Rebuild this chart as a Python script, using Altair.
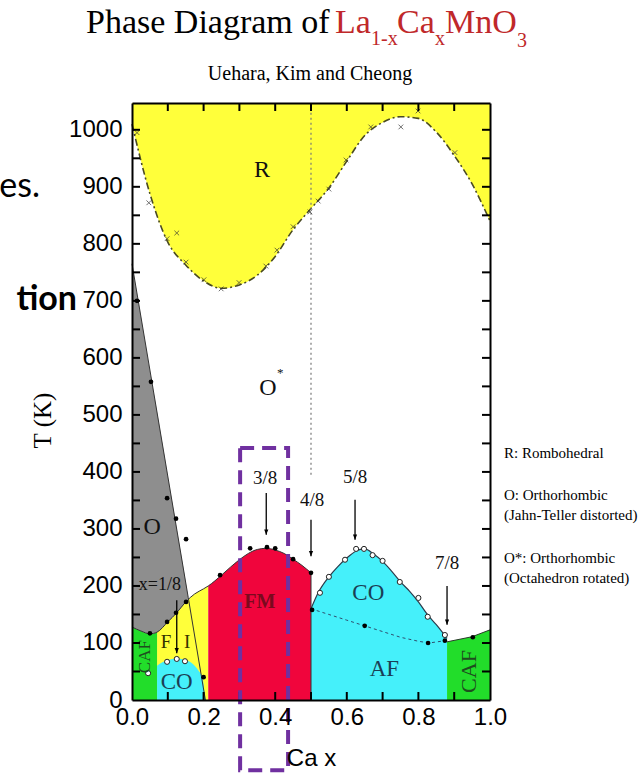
import altair as alt
import pandas as pd

T_TOP = 1047

# R (rhombohedral) / O* boundary
r_x = [0.0, 0.05, 0.1, 0.15, 0.2, 0.25, 0.3, 0.35, 0.4, 0.45, 0.5, 0.55, 0.6, 0.65, 0.7, 0.75, 0.8, 0.85, 0.9, 0.95, 1.0]
r_T = [1010, 888, 803, 763, 735, 722, 728, 745, 778, 825, 862, 898, 945, 990, 1013, 1023, 1020, 996, 955, 905, 840]
# measured structural transition points (crosses)
cross_x = [0.014, 0.047, 0.098, 0.125, 0.151, 0.201, 0.249, 0.299, 0.374, 0.405, 0.45, 0.497, 0.52, 0.55, 0.598, 0.667, 0.751, 0.799, 0.902]
cross_T = [995, 872, 809, 819, 768, 737, 721, 732, 761, 789, 830, 856, 875, 896, 947, 1005, 1005, 1033, 960]

# magnetic ordering temperature for x <= 0.5
tc_x = [0.0, 0.025, 0.05, 0.07, 0.1, 0.125, 0.15, 0.175, 0.2, 0.213, 0.25, 0.275, 0.3, 0.325, 0.35, 0.375, 0.4, 0.425, 0.45, 0.475, 0.5]
tc_T = [128, 121, 116, 119, 137, 153, 172, 186, 195, 200, 219, 233, 246, 257, 264, 266, 263, 257, 247, 236, 223]

# O (Jahn-Teller) region
gray_x = [0.0, 0.025, 0.05, 0.07, 0.1, 0.125, 0.15, 0.157]
gray_top = [765, 672, 578, 505, 393, 300, 207, 180]
gray_bot = [128, 121, 116, 119, 137, 153, 172, 178]
oline_x = [0.0, 0.157, 0.205]
oline_T = [765, 180, 0]

# charge-ordered domes
co1_x = [0.07, 0.085, 0.1, 0.125, 0.15, 0.17, 0.185, 0.197, 0.205]
co1_T = [60, 66, 70, 73, 70, 63, 52, 38, 0]
co2_x = [0.5, 0.52, 0.55, 0.575, 0.6, 0.625, 0.65, 0.675, 0.7, 0.725, 0.75, 0.775, 0.8, 0.825, 0.85, 0.88]
co2_T = [160, 188, 216, 234, 249, 261, 265, 256, 243, 226, 207, 191, 172, 150, 132, 108]

# canted AF at high x, AF transition line
caf2_x = [0.88, 0.95, 1.0]
caf2_T = [102, 111, 123]
af_x = [0.5, 0.55, 0.6, 0.65, 0.7, 0.75, 0.8, 0.83, 0.875]
af_T = [160, 150, 140, 130, 120, 110, 103, 100, 104]

# measured points
dot_x = [0.014, 0.053, 0.098, 0.123, 0.151, 0.05, 0.098, 0.123, 0.151, 0.246, 0.33, 0.377, 0.40, 0.45, 0.5, 0.2, 0.503, 0.65, 0.827, 0.874, 0.952]
dot_T = [700, 558, 354, 318, 282, 117, 137, 153, 172, 219, 266, 268, 266, 247, 223, 40, 158, 130, 100, 104, 110]
oc_x = [0.045, 0.098, 0.125, 0.148, 0.525, 0.55, 0.595, 0.626, 0.648, 0.672, 0.70, 0.748, 0.80, 0.826, 0.874]
oc_T = [47, 67, 72, 68, 188, 216, 246, 265, 265, 254, 244, 207, 179, 146, 114]

# commensurate fillings
arrow_x = [0.125, 0.375, 0.5, 0.623, 0.88]
arrow_from = [175, 363, 316, 351, 200]
arrow_to = [82, 290, 252, 281, 132]

# highlighted composition window
box_x = [0.302, 0.436]
box_T = [442, -123]

# tick positions
x_ticks = [0.1, 0.2, 0.3, 0.4, 0.5, 0.6, 0.7, 0.8, 0.9]
x_labels = [0.0, 0.2, 0.4, 0.6, 0.8, 1.0]
T_ticks = list(range(50, 1001, 50))
T_labels = list(range(0, 1001, 100))

YELLOW = "#ffff3a"
GRAY = "#8e8e8e"
GREEN = "#22dd2a"
CYAN = "#45f0fa"
RED = "#f0053c"

W, H = 358, 597
xs = alt.Scale(domain=[0, 1], nice=False, zero=False)
ys = alt.Scale(domain=[0, T_TOP], nice=False)


def X(f="x"):
    return alt.X(f"{f}:Q", scale=xs, axis=None)


def Y(f="T"):
    return alt.Y(f"{f}:Q", scale=ys, axis=None)


r_df = pd.DataFrame({"x": r_x, "T": r_T, "top": [T_TOP] * len(r_x)})
tc_df = pd.DataFrame({"x": tc_x, "T": tc_T})
gray_df = pd.DataFrame({"x": gray_x, "top": gray_top, "bot": gray_bot})
oline_df = pd.DataFrame({"x": oline_x, "T": oline_T})
co1_df = pd.DataFrame({"x": co1_x, "T": co1_T})
co2_df = pd.DataFrame({"x": co2_x, "T": co2_T})
caf2_df = pd.DataFrame({"x": caf2_x, "T": caf2_T})
af_df = pd.DataFrame({"x": af_x, "T": af_T})
cross_df = pd.DataFrame({"x": cross_x, "T": cross_T})
dot_df = pd.DataFrame({"x": dot_x, "T": dot_T})
oc_df = pd.DataFrame({"x": oc_x, "T": oc_T})
arrow_df = pd.DataFrame({"x": arrow_x, "T": arrow_from, "T2": arrow_to})
box_df = pd.DataFrame({"x": [box_x[0]], "x2": [box_x[1]], "T": [box_T[0]], "T2": [box_T[1]]})
xt_df = pd.DataFrame({"x": x_ticks})
Tt_df = pd.DataFrame({"T": T_ticks})
one = pd.DataFrame({"x": [0], "T": [0]})

# phase regions
r_area = alt.Chart(r_df).mark_area(color=YELLOW, interpolate="monotone").encode(
    x=X(), y=Y(), y2="top:Q")
fi_area = alt.Chart(tc_df).transform_filter("datum.x >= 0.07 && datum.x <= 0.213").mark_area(
    color=YELLOW, interpolate="monotone").encode(x=X(), y=Y())
caf1_area = alt.Chart(tc_df).transform_filter("datum.x <= 0.07").mark_area(
    color=GREEN, interpolate="monotone").encode(x=X(), y=Y())
fm_area = alt.Chart(tc_df).transform_filter("datum.x >= 0.213").mark_area(
    color=RED, interpolate="monotone").encode(x=X(), y=Y())
co1_area = alt.Chart(co1_df).mark_area(color=CYAN, interpolate="monotone").encode(x=X(), y=Y())
co2_area = alt.Chart(co2_df).mark_area(color=CYAN, interpolate="monotone").encode(x=X(), y=Y())
caf2_area = alt.Chart(caf2_df).mark_area(color=GREEN).encode(x=X(), y=Y())
gray_area = alt.Chart(gray_df).mark_area(color=GRAY, interpolate="monotone").encode(
    x=X(), y=Y("top"), y2="bot:Q")

# boundaries
r_line = alt.Chart(r_df).mark_line(color="#4a4a22", strokeWidth=1.6, strokeDash=[7, 3, 2, 3],
                                   interpolate="monotone").encode(x=X(), y=Y())
tc_line = alt.Chart(tc_df).mark_line(color="#333333", strokeWidth=1, interpolate="monotone").encode(x=X(), y=Y())
o_line = alt.Chart(oline_df).mark_line(color="#333333", strokeWidth=1).encode(x=X(), y=Y())
co2_line = alt.Chart(co2_df).mark_line(color="#2b3b4b", strokeWidth=1.2, interpolate="monotone").encode(x=X(), y=Y())
caf2_line = alt.Chart(caf2_df).mark_line(color="#2b3b2b", strokeWidth=1).encode(x=X(), y=Y())
af_line = alt.Chart(af_df).mark_line(color="#2f4f6f", strokeWidth=1, strokeDash=[3, 3]).encode(x=X(), y=Y())
half_df = pd.DataFrame({"x": [0.5, 0.5], "T": [395, 0], "T2": [T_TOP, 223], "kind": ["dotted", "solid"]})
half_dotted = alt.Chart(half_df).transform_filter("datum.kind == 'dotted'").mark_rule(
    color="#777777", strokeWidth=1.2, strokeDash=[2, 3]).encode(x=X(), y=Y(), y2="T2:Q")
half_solid = alt.Chart(half_df).transform_filter("datum.kind == 'solid'").mark_rule(
    color="#333333", strokeWidth=1).encode(x=X(), y=Y(), y2="T2:Q")

# data points
crosses = alt.Chart(cross_df).mark_point(shape="M-1,-1L1,1M1,-1L-1,1", size=22, color="#333333",
                                         strokeWidth=1, filled=False).encode(x=X(), y=Y())
dots = alt.Chart(dot_df).mark_circle(size=22, color="black", opacity=1).encode(x=X(), y=Y())
opens = alt.Chart(oc_df).mark_point(shape="circle", size=26, filled=False, fill="white", fillOpacity=1,
                                    stroke="#222222", strokeWidth=1).encode(x=X(), y=Y())

# arrows
shafts = alt.Chart(arrow_df).mark_rule(color="black", strokeWidth=1.3).encode(x=X(), y=Y(), y2="T2:Q")
heads = alt.Chart(arrow_df).mark_point(shape="M-0.4,-1L0.4,-1L0,0Z", size=110, filled=True,
                                       color="black", opacity=1).encode(x=X(), y=Y("T2"))


# labels
def labels(items, **style):
    df = pd.DataFrame(items, columns=["x", "T", "text"])
    base = dict(font="Liberation Serif", align="center", baseline="middle")
    base.update(style)
    return alt.Chart(df).mark_text(**base).encode(x=X(), y=Y(), text="text:N")


big = labels([(0.363, 930, "R"), (0.38, 547, "O"), (0.056, 304, "O")], fontSize=24, color="#111111")
star = labels([(0.414, 573, "*")], fontSize=13, color="#111111")
fracs = labels([(0.372, 389, "3/8"), (0.503, 351, "4/8"), (0.623, 391, "5/8"), (0.88, 240, "7/8")],
               fontSize=19, color="#111111")
x18 = labels([(0.078, 202, "x=1/8")], fontSize=18, color="#111111")
fm = labels([(0.357, 172, "FM")], fontSize=20, fontWeight="bold", color="#7a0a1e")
co = labels([(0.66, 188, "CO"), (0.705, 55, "AF"), (0.125, 32, "CO")], fontSize=23, color="#1a3f55")
fi = labels([(0.095, 102, "F"), (0.154, 102, "I")], fontSize=19, color="#333300")
caf_l = labels([(0.036, 76, "CAF")], fontSize=17, angle=270, color="#1e4d1e")
caf_r = labels([(0.94, 50, "CAF")], fontSize=22, angle=270, color="#1e4d1e")

box = alt.Chart(box_df).mark_rect(fillOpacity=0, stroke="#7030a0", strokeWidth=4,
                                  strokeDash=[14, 8]).encode(x=X(), x2="x2:Q", y=Y(), y2="T2:Q")

# inward ticks on all four sides
TICK = 8
tick_kw = dict(color="black", strokeWidth=2, opacity=1)
ticks_bottom = alt.Chart(xt_df).mark_rule(**tick_kw).encode(x=X(), y=alt.value(H), y2=alt.value(H - TICK))
ticks_top = alt.Chart(xt_df).mark_rule(**tick_kw).encode(x=X(), y=alt.value(0), y2=alt.value(TICK))
ticks_left = alt.Chart(Tt_df).mark_rule(**tick_kw).encode(y=Y(), x=alt.value(0), x2=alt.value(TICK))
ticks_right = alt.Chart(Tt_df).mark_rule(**tick_kw).encode(y=Y(), x=alt.value(W), x2=alt.value(W - TICK))

# frame with labelled axes
frame_main = alt.Chart(one).mark_point(opacity=0).encode(
    x=alt.X("x:Q", scale=xs, axis=alt.Axis(
        values=x_labels, format=".1f", labelFlush=False,
        labelFont="Liberation Sans", labelFontSize=24, labelColor="black", labelPadding=5,
        ticks=False, tickSize=0, domain=True, domainColor="black", domainWidth=2, grid=False, zindex=1,
        title="Ca x", titleFont="Liberation Sans", titleFontSize=24, titleFontWeight="normal",
        titleColor="black", titleX=179, titleY=58, titleBaseline="middle")),
    y=alt.Y("T:Q", scale=ys, axis=alt.Axis(
        values=T_labels, format="d", labelFont="Liberation Sans", labelFontSize=24,
        labelColor="black", labelPadding=10, ticks=False, tickSize=0, domain=True,
        domainColor="black", domainWidth=2, grid=False, zindex=1,
        title="T (K)", titleFont="Liberation Serif", titleFontSize=25, titleFontWeight="normal",
        titleColor="black", titleAngle=270, titleX=-90, titleY=317,
        titleAlign="center", titleBaseline="middle")))

frame_far = alt.Chart(one).mark_point(opacity=0).encode(
    x=alt.X("x:Q", scale=xs, axis=alt.Axis(orient="top", labels=False, ticks=False, domain=True,
                                          domainColor="black", domainWidth=2, grid=False,
                                          title=None, zindex=1)),
    y=alt.Y("T:Q", scale=ys, axis=alt.Axis(orient="right", labels=False, ticks=False, domain=True,
                                          domainColor="black", domainWidth=2, grid=False,
                                          title=None, zindex=1)))


def note(text, px, py, size, font="Liberation Serif", color="black", align="left",
         baseline="alphabetic", weight="normal"):
    return alt.Chart(one).mark_text(text=text, font=font, fontSize=size, color=color, align=align,
                                    baseline=baseline, fontWeight=weight).encode(
        x=alt.value(px), y=alt.value(py))


RED_TXT = "#c0282a"
title_parts = [
    note("Phase Diagram of", -46, -70, 34),
    note("La", 203, -70, 34, color=RED_TXT),
    note("1-x", 239, -58, 20, color=RED_TXT),
    note("Ca", 265, -70, 34, color=RED_TXT),
    note("x", 303, -58, 20, color=RED_TXT),
    note("MnO", 313, -70, 34, color=RED_TXT),
    note("3", 385, -56, 20, color=RED_TXT),
    note("Uehara, Kim and Cheong", 178, -23, 20, align="center"),
]
legend_notes = [
    note("R: Rombohedral", 372, 350, 15, baseline="middle"),
    note("O: Orthorhombic", 372, 392, 15, baseline="middle"),
    note("(Jahn-Teller distorted)", 372, 412, 15, baseline="middle"),
    note("O*: Orthorhombic", 372, 455, 15, baseline="middle"),
    note("(Octahedron rotated)", 372, 475, 15, baseline="middle"),
]
slide_notes = [
    note("es.", -92, 94, 34, font="Lato", align="right"),
    note("tion", -55, 207, 34, font="Lato", align="right", weight="bold"),
]

layers = [r_area, fi_area, caf1_area, fm_area, co1_area, co2_area, caf2_area, gray_area,
          r_line, tc_line, o_line, co2_line, caf2_line, af_line, half_dotted, half_solid,
          crosses, dots, opens, shafts, heads,
          big, star, fracs, x18, fm, co, fi, caf_l, caf_r,
          ticks_bottom, ticks_top, ticks_left, ticks_right, box,
          frame_main, frame_far] + title_parts + legend_notes + slide_notes

chart = alt.layer(*layers).resolve_axis(x="independent", y="independent").properties(
    width=W, height=H,
    padding={"left": 132, "top": 103, "right": 149, "bottom": 78},
    autosize=alt.AutoSizeParams(type="none"),
    background="white",
).configure_view(strokeWidth=0).configure_axis(grid=False)

chart.save("out.html", embed_options={"renderer": "svg", "actions": False})
